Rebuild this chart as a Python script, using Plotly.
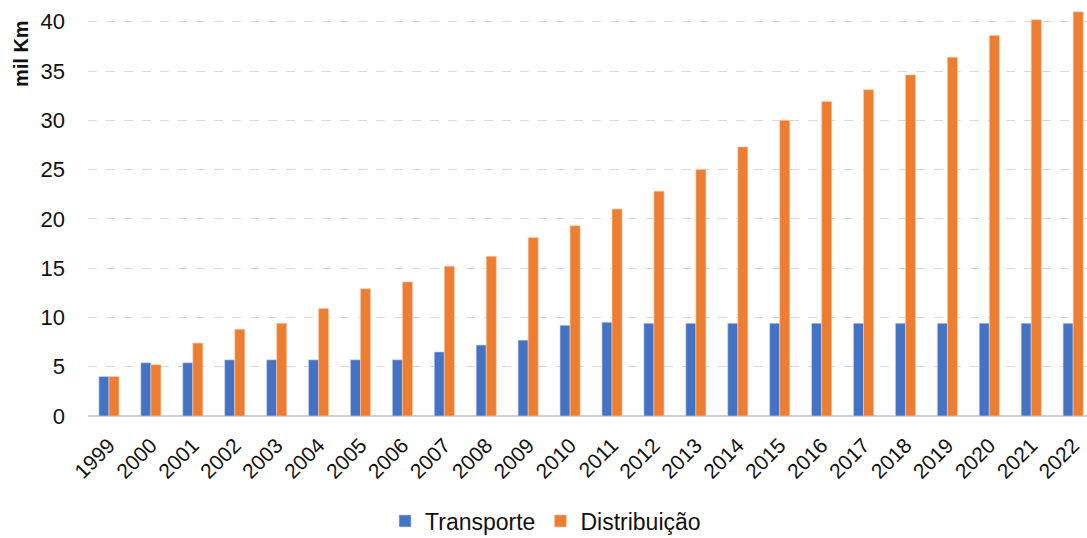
import plotly.graph_objects as go

# ===== DATOS =====
anos = [str(a) for a in range(1999, 2023)]
transporte = [4.0, 5.4, 5.4, 5.7, 5.7, 5.7, 5.7, 5.7, 6.5, 7.2, 7.7, 9.2,
              9.5, 9.4, 9.4, 9.4, 9.4, 9.4, 9.4, 9.4, 9.4, 9.4, 9.4, 9.4]
distribuicao = [4.0, 5.2, 7.4, 8.8, 9.4, 10.9, 12.9, 13.6, 15.2, 16.2, 18.1, 19.3,
                21.0, 22.8, 25.0, 27.3, 30.0, 31.9, 33.1, 34.6, 36.4, 38.6, 40.2, 41.0]
y_ticks = [0, 5, 10, 15, 20, 25, 30, 35, 40]

FONT = "Liberation Sans, Arial, sans-serif"
TEXT = "#111111"

fig = go.Figure()
fig.add_trace(go.Bar(
    x=anos, y=transporte, name="Transporte",
    marker=dict(color="#4472C4", line=dict(color="#c9d5ee", width=0.6)),
))
fig.add_trace(go.Bar(
    x=anos, y=distribuicao, name="Distribuição",
    marker=dict(color="#ED7D31", line=dict(color="#f8cfb3", width=0.6)),
))

fig.update_layout(
    width=1087, height=538,
    margin=dict(l=88, r=0, t=2, b=122, autoexpand=False),
    paper_bgcolor="white", plot_bgcolor="white",
    font=dict(family=FONT, size=21, color=TEXT),
    barmode="group", bargap=0.52, bargroupgap=0,
    showlegend=True,
    legend=dict(
        orientation="h", xanchor="center", x=0.458,
        yref="container", yanchor="middle", y=(538 - 521) / 538,
        font=dict(size=23, color=TEXT),
        itemwidth=30, traceorder="normal",
    ),
    xaxis=dict(
        type="category", range=[-0.5, 23.33],
        tickangle=-45, tickfont=dict(size=21, color=TEXT),
        showgrid=False, showline=False, zeroline=False,
        ticks="", automargin=False, ticklabelstandoff=12,
    ),
    yaxis=dict(
        range=[0, 42], tickvals=y_ticks,
        tickfont=dict(size=22, color=TEXT),
        showgrid=True, gridcolor="#d9d9d9", griddash="dash", gridwidth=1,
        zeroline=True, zerolinecolor="#d0d0d0", zerolinewidth=2,
        showline=False, ticks="", ticklabelstandoff=22, automargin=False,
    ),
)

# Título del eje Y, colocado arriba como en el original
fig.add_annotation(
    text="<b>mil Km</b>", textangle=-90,
    xref="paper", yref="paper", x=-0.067, y=(416 - 54) / 414,
    xanchor="center", yanchor="middle", showarrow=False,
    font=dict(size=20, color=TEXT, family=FONT),
)

# quitar el margen del body para que la figura ocupe toda la ventana
fig.write_html(
    "out.html",
    config={"displayModeBar": False},
    post_script="document.body.style.margin='0';document.body.style.overflow='hidden';",
)
